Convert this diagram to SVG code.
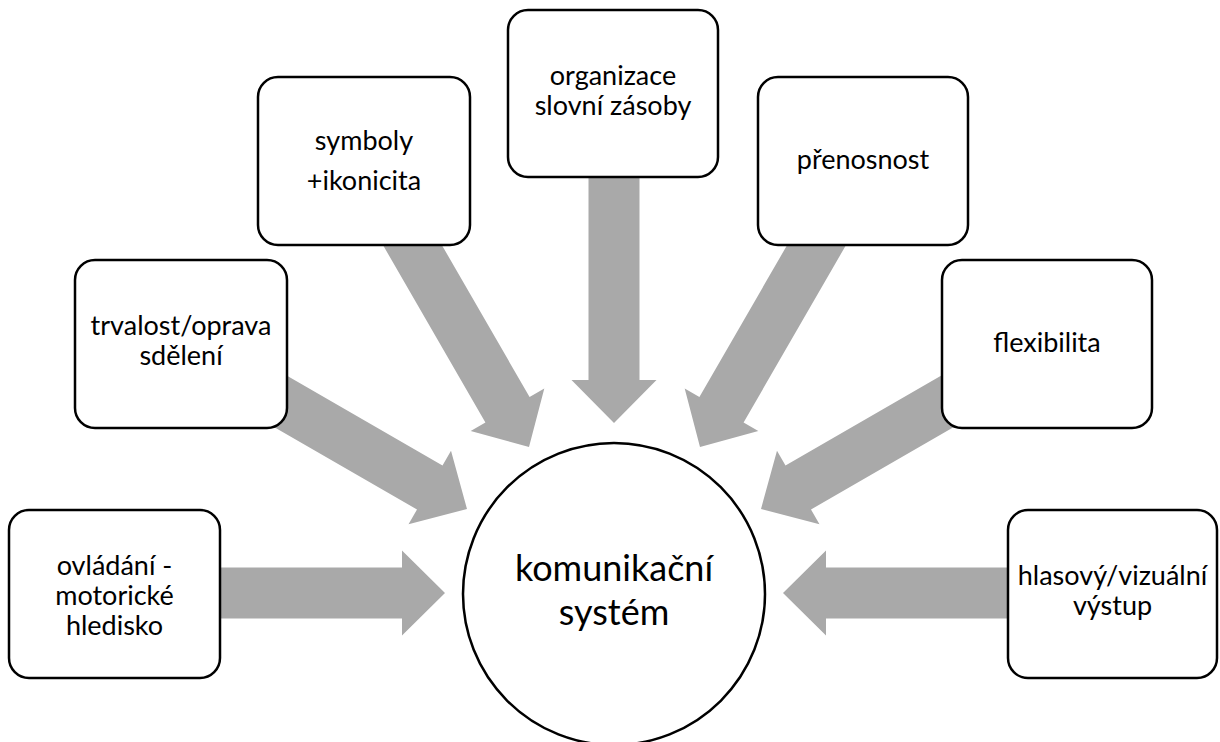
<svg xmlns="http://www.w3.org/2000/svg" width="1220" height="742" viewBox="0 0 1220 742">
<defs>
<style>
.arrow{fill:#a9a9a9;stroke:none}
.box{fill:#ffffff;stroke:#000000;stroke-width:2.5}
.lbl{font-family:Lato,"Open Sans","Liberation Sans",sans-serif;font-size:27px;fill:#000000;text-anchor:middle}
.big{font-size:36px}
</style>
<polygon id="arr" points="-260,-25.5 -43,-25.5 -43,-42.5 0,0 -43,42.5 -43,25.5 -260,25.5"/>
</defs>
<rect width="1220" height="742" fill="#ffffff"/>
<g id="connectors">
<use href="#arr" class="arrow" transform="translate(445,593) rotate(0)"/>
<use href="#arr" class="arrow" transform="translate(467,509) rotate(30)"/>
<use href="#arr" class="arrow" transform="translate(529,447) rotate(60)"/>
<use href="#arr" class="arrow" transform="translate(614,423) rotate(90)"/>
<use href="#arr" class="arrow" transform="translate(700,447) rotate(120)"/>
<use href="#arr" class="arrow" transform="translate(761,509) rotate(150)"/>
<use href="#arr" class="arrow" transform="translate(783,593) rotate(180)"/>
</g>
<g id="node-ovladani">
<rect class="box" x="9" y="510" width="211" height="168" rx="20"/>
<text class="lbl" x="114.5" y="575">ovládání -</text>
<text class="lbl" x="114.5" y="605">motorické</text>
<text class="lbl" x="114.5" y="635">hledisko</text>
</g>
<g id="node-trvalost">
<rect class="box" x="75" y="260" width="212" height="168" rx="20"/>
<text class="lbl" x="181" y="335">trvalost/oprava</text>
<text class="lbl" x="181" y="365">sdělení</text>
</g>
<g id="node-symboly">
<rect class="box" x="258" y="77" width="212" height="168" rx="20"/>
<text class="lbl" x="364" y="150">symboly</text>
<text class="lbl" x="364" y="190">+ikonicita</text>
</g>
<g id="node-organizace">
<rect class="box" x="508" y="10" width="210" height="167" rx="20"/>
<text class="lbl" x="613" y="85">organizace</text>
<text class="lbl" x="613" y="115">slovní zásoby</text>
</g>
<g id="node-prenosnost">
<rect class="box" x="758" y="77" width="210" height="168" rx="20"/>
<text class="lbl" x="863" y="169">přenosnost</text>
</g>
<g id="node-flexibilita">
<rect class="box" x="942" y="260" width="210" height="168" rx="20"/>
<text class="lbl" x="1047" y="352">flexibilita</text>
</g>
<g id="node-vystup">
<rect class="box" x="1008" y="510" width="209" height="168" rx="20"/>
<text class="lbl" x="1112.5" y="585">hlasový/vizuální</text>
<text class="lbl" x="1112.5" y="615">výstup</text>
</g>
<g id="node-system">
<circle class="box" cx="614" cy="594" r="151"/>
<text class="lbl big" x="614" y="581">komunikační</text>
<text class="lbl big" x="614" y="625">systém</text>
</g>
</svg>
